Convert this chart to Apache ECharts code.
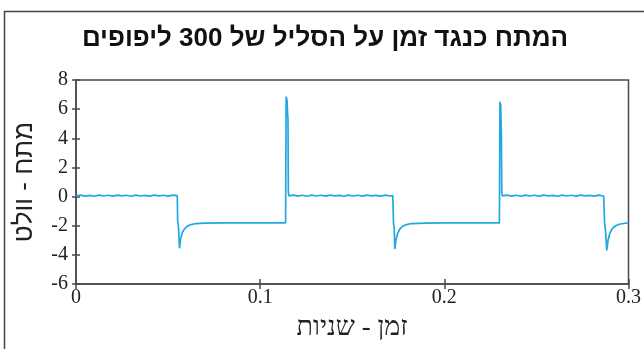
<!DOCTYPE html>
<html>
<head>
<meta charset="utf-8">
<script src="https://cdn.jsdelivr.net/npm/echarts@6/dist/echarts.min.js"></script>
<style>
  html, body { margin: 0; padding: 0; background: #fff; }
  #chart { width: 644px; height: 349px; }
</style>
</head>
<body>
<div id="chart"></div>
<script>
// Coil voltage (V) against time (s)
const titleText = 'המתח כנגד זמן על הסליל של 300 ליפופים';
const xName = 'זמן - שניות';
const yName = 'מתח - וולט';

const xTicks = [0, 0.1, 0.2, 0.3];
const yTicks = [-6, -4, -2, 0, 2, 4, 6, 8];

const times = [
  0, 0.0025, 0.005, 0.0075, 0.01, 0.0125, 0.015, 0.0175, 0.02, 0.0225, 0.025, 0.0275,
  0.03, 0.0325, 0.035, 0.0375, 0.04, 0.0425, 0.045, 0.0475, 0.05, 0.0525, 0.055,
  0.0552, 0.0556, 0.0562, 0.0568, 0.0578, 0.059, 0.0605, 0.0625, 0.065, 0.07, 0.08, 0.09, 0.1, 0.11, 0.1138,
  0.1141, 0.1146, 0.1149, 0.1151, 0.1153, 0.1156,
  0.118, 0.1205, 0.123, 0.1255, 0.128, 0.1305, 0.133, 0.1355, 0.138, 0.1405, 0.143, 0.1455,
  0.148, 0.1505, 0.153, 0.1555, 0.158, 0.1605, 0.163, 0.1655, 0.168, 0.1705, 0.172,
  0.1724, 0.1728, 0.1731, 0.1737, 0.1747, 0.176, 0.1775, 0.1795, 0.182, 0.19, 0.2, 0.21, 0.22, 0.2299,
  0.2302, 0.2306, 0.231, 0.2312, 0.2315,
  0.234, 0.2365, 0.239, 0.2415, 0.244, 0.2465, 0.249, 0.2515, 0.254, 0.2565, 0.259, 0.2615,
  0.264, 0.2665, 0.269, 0.2715, 0.274, 0.2765, 0.279, 0.2815, 0.284, 0.2865, 0.2868,
  0.287, 0.2875, 0.2882, 0.2889, 0.2899, 0.2912, 0.2928, 0.295, 0.298, 0.3
];

const volts = [
  0.05, 0.1, 0.03, 0.08, 0.02, 0.1, 0.04, 0.09, 0.03, 0.1, 0.05, 0.09,
  0.02, 0.1, 0.04, 0.08, 0.03, 0.1, 0.05, 0.09, 0.03, 0.1, 0.06,
  -1.7, -2.0, -3.55, -2.9, -2.45, -2.2, -2.03, -1.92, -1.85, -1.82, -1.81, -1.81, -1.8, -1.8, -1.8,
  6.85, 6.6, 5.6, 5.4, 0.3, 0.05,
  0.1, 0.03, 0.09, 0.02, 0.1, 0.04, 0.09, 0.03, 0.1, 0.05, 0.08, 0.02,
  0.1, 0.04, 0.09, 0.03, 0.1, 0.05, 0.08, 0.03, 0.1, 0.04, 0.07,
  -1.8, -2.2, -3.6, -3.0, -2.5, -2.2, -2.03, -1.92, -1.85, -1.82, -1.81, -1.8, -1.8, -1.8,
  6.5, 6.3, 4.0, 0.2, 0.05,
  0.1, 0.03, 0.09, 0.02, 0.1, 0.04, 0.09, 0.03, 0.1, 0.05, 0.08, 0.02,
  0.1, 0.04, 0.09, 0.03, 0.1, 0.05, 0.08, 0.03, 0.1, 0.04, 0.06,
  -1.8, -2.3, -3.7, -3.0, -2.5, -2.2, -2.02, -1.9, -1.83, -1.8
];

const seriesData = times.map((t, i) => [t, volts[i]]);

const axisColor = '#4a4a4a';
const tickFont = { fontFamily: 'Liberation Serif', fontSize: 20, color: '#222' };

const chart = echarts.init(document.getElementById('chart'), null, { renderer: 'canvas' });

chart.setOption({
  animation: false,
  backgroundColor: '#fff',
  title: {
    text: titleText,
    left: 320,
    top: 21,
    textAlign: 'center',
    textStyle: { fontFamily: 'Liberation Sans', fontWeight: 'bold', fontSize: 26, color: '#111' }
  },
  graphic: [
    {
      type: 'polyline',
      shape: { points: [[4.5, 349], [4.5, 11.5], [644, 11.5]] },
      style: { stroke: '#444', lineWidth: 1.5, fill: null }
    }
  ],
  grid: {
    left: 76, right: 12, top: 80, bottom: 65,
    show: true, borderColor: axisColor, borderWidth: 1.5, backgroundColor: 'transparent'
  },
  xAxis: [
    {
      type: 'value', min: xTicks[0], max: xTicks[xTicks.length - 1], interval: 0.1,
      position: 'bottom',
      name: xName, nameLocation: 'middle', nameGap: 30,
      nameTextStyle: { fontFamily: 'Liberation Serif', fontSize: 27, color: '#222' },
      axisLine: { show: true, onZero: false, lineStyle: { color: axisColor, width: 1.5 } },
      axisTick: { show: true, inside: false, length: 5, lineStyle: { color: axisColor, width: 1.5 } },
      axisLabel: Object.assign({ margin: 4, formatter: v => (Math.round(v * 10) / 10).toString() }, tickFont),
      splitLine: { show: false }
    },
    {
      type: 'value', min: xTicks[0], max: xTicks[xTicks.length - 1], interval: 0.1,
      position: 'bottom',
      axisLine: { show: false, onZero: false },
      axisTick: { show: true, inside: true, length: 5, lineStyle: { color: axisColor, width: 1.5 } },
      axisLabel: { show: false },
      splitLine: { show: false }
    }
  ],
  yAxis: [
    {
      type: 'value', min: yTicks[0], max: yTicks[yTicks.length - 1], interval: 2,
      position: 'left',
      name: yName, nameLocation: 'middle', nameGap: 38,
      nameTextStyle: { fontFamily: 'Liberation Sans', fontSize: 26, color: '#222' },
      axisLine: { show: true, onZero: false, lineStyle: { color: axisColor, width: 1.5 } },
      axisTick: { show: true, inside: false, length: 4, lineStyle: { color: axisColor, width: 1.5 } },
      axisLabel: Object.assign({ margin: 8 }, tickFont),
      splitLine: { show: false }
    },
    {
      type: 'value', min: yTicks[0], max: yTicks[yTicks.length - 1], interval: 2,
      position: 'left',
      axisLine: { show: false, onZero: false },
      axisTick: { show: true, inside: true, length: 4, lineStyle: { color: axisColor, width: 1.5 } },
      axisLabel: { show: false },
      splitLine: { show: false }
    }
  ],
  series: [
    {
      type: 'line',
      data: seriesData,
      showSymbol: false,
      symbol: 'none',
      lineStyle: { color: '#22a8e0', width: 1.7 },
      clip: true
    }
  ]
});
</script>
</body>
</html>
